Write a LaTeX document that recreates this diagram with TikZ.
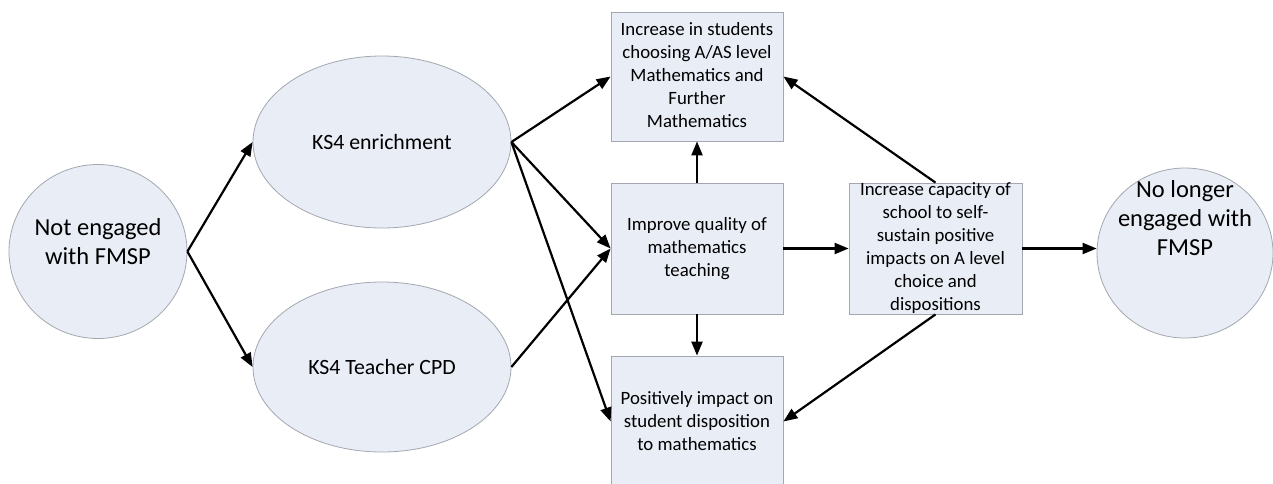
\documentclass[tikz,border=0pt]{standalone}
\usepackage{fontspec}
\setmainfont{Carlito}
\usetikzlibrary{shapes.geometric,arrows.meta}
\definecolor{fillc}{HTML}{E9EDF6}
\definecolor{edgec}{HTML}{A3A7AF}
\tikzset{
  oval/.style={ellipse,draw=edgec,line width=0.8pt,fill=fillc,inner sep=0pt,align=center},
  boxn/.style={rectangle,draw=edgec,line width=0.8pt,fill=fillc,inner sep=0pt,align=center,
    font=\fontsize{18.8}{23}\selectfont},
  bigtxt/.style={font=\fontsize{24.5}{29}\selectfont,align=center},
  midtxt/.style={font=\fontsize{21.8}{26}\selectfont},
  arr/.style={line width=2.2pt,-{Triangle[length=14pt,width=11pt]}}
}
\begin{document}
\begin{tikzpicture}[x=1pt,y=-1pt]
\useasboundingbox (0,0) rectangle (1273,483);
\node[oval,minimum width=178,minimum height=174,
  label={[bigtxt,yshift=10]center:Not engaged\\with FMSP}] (nc) at (98,251.5) {};
\node[oval,midtxt,minimum width=258,minimum height=172] (enr) at (382,142) {KS4 enrichment};
\node[oval,midtxt,minimum width=258,minimum height=170] (cpd) at (382,367) {KS4 Teacher CPD};
\node[boxn,minimum width=172,minimum height=129] (top) at (697,76.5) {\raisebox{2pt}{\begin{tabular}{@{}c@{}}Increase in students\\choosing A/AS level\\Mathematics and\\Further\\Mathematics\end{tabular}}};
\node[boxn,minimum width=172,minimum height=131] (mid) at (697,248.5) {Improve quality of\\mathematics\\teaching};
\node[boxn,minimum width=172,minimum height=131] (bot) at (697,421.5) {Positively impact on\\student disposition\\to mathematics};
\node[boxn,minimum width=173,minimum height=131] (rb) at (935.5,248.5) {Increase capacity of\\school to self-\\sustain positive\\impacts on A level\\choice and\\dispositions};
\node[oval,minimum width=176,minimum height=170,
  label={[bigtxt,yshift=35]center:No longer\\engaged with\\FMSP}] (nl) at (1185,253) {};
\draw[arr] (nc.east) -- (enr.west);
\draw[arr] (nc.east) -- (cpd.west);
\draw[arr] (enr.east) -- (top.west);
\draw[arr] (enr.east) -- (mid.west);
\draw[arr] (enr.east) -- (bot.west);
\draw[arr] (cpd.east) -- (mid.west);
\draw[arr] (mid.north) -- (top.south);
\draw[arr] (mid.south) -- (bot.north);
\draw[arr] (mid.east) -- (rb.west);
\draw[arr] (rb.north) -- (top.east);
\draw[arr] (rb.south) -- (bot.east);
\draw[arr] (rb.east) -- (rb.east -| nl.west);
\end{tikzpicture}
\end{document}
